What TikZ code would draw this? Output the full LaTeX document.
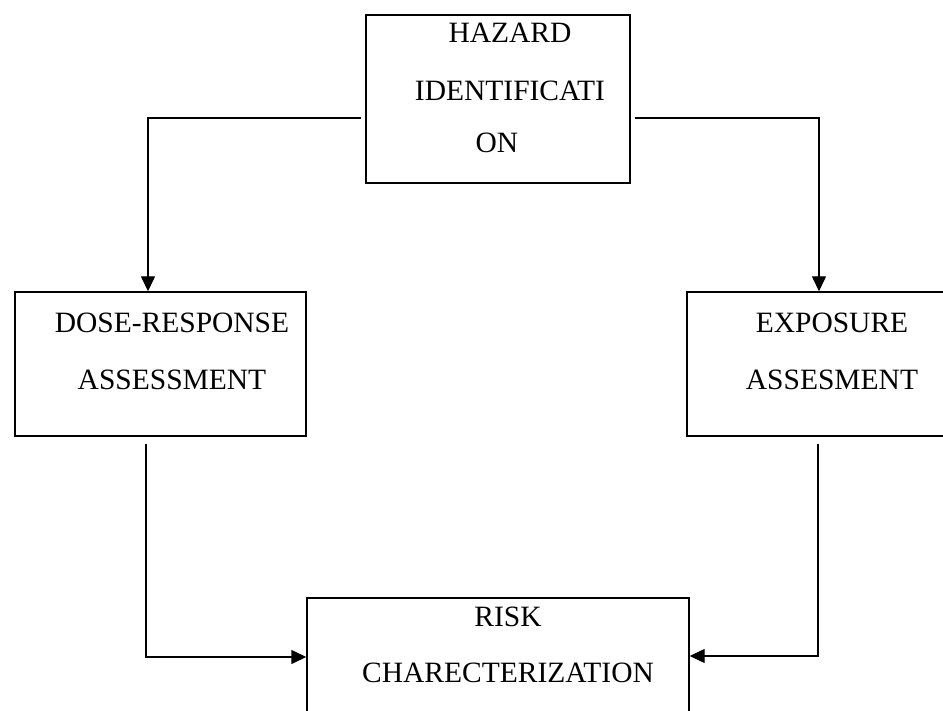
\documentclass[tikz,border=0pt]{standalone}
\usepackage{fontspec}
\setmainfont{Liberation Serif}
\usetikzlibrary{arrows.meta,calc}
\begin{document}
\begin{tikzpicture}[x=1pt,y=-1pt,
  box/.style={draw,line width=1.4pt,minimum width=#1,inner sep=0pt},
  lbl/.style={font=\fontsize{29.5}{34}\selectfont,inner sep=0pt,anchor=center},
  conn/.style={line width=1.4pt,-{Triangle[length=15pt,width=14pt]}}]
\useasboundingbox (0,0) rectangle (943,711);
\clip (0,0) rectangle (943,711);
\fill[white] (0,0) rectangle (943,711);
% boxes
\node[box=264pt,minimum height=168pt] (top) at (498,99) {};
\node[box=291pt,minimum height=144pt] (dose) at (160.5,364) {};
\node[box=273pt,minimum height=144pt] (expo) at (823.5,364) {};
\node[box=382pt,minimum height=132pt] (risk) at (498,664) {};
% texts
\node[lbl] (t1) at (510,33) {HAZARD};
\node[lbl] (t2) at (510,91) {IDENTIFICATI};
\node[lbl] (t3) at (497,143) {ON};
\node[lbl] (d1) at (172,323) {DOSE-RESPONSE};
\node[lbl] (d2) at (172,380) {ASSESSMENT};
\node[lbl] (e1) at (832,323) {EXPOSURE};
\node[lbl] (e2) at (832,380) {ASSESMENT};
\node[lbl] (r1) at (508,617) {RISK};
\node[lbl] (r2) at (508,673) {CHARECTERIZATION};
% connectors
\draw[conn] ($(top.west)+(-4pt,-19pt)$) -| ($(dose.north)+(-12.5pt,0)$);
\draw[conn] ($(top.east)+(4pt,-19pt)$) -| ($(expo.north)+(-4.5pt,0)$);
\draw[conn] ($(dose.south)+(-14.5pt,-7pt)$) |- ($(risk.west)+(0,7pt)$);
\draw[conn] ($(expo.south)+(-5.5pt,-7pt)$) |- ($(risk.east)+(0,8pt)$);
\end{tikzpicture}
\end{document}
